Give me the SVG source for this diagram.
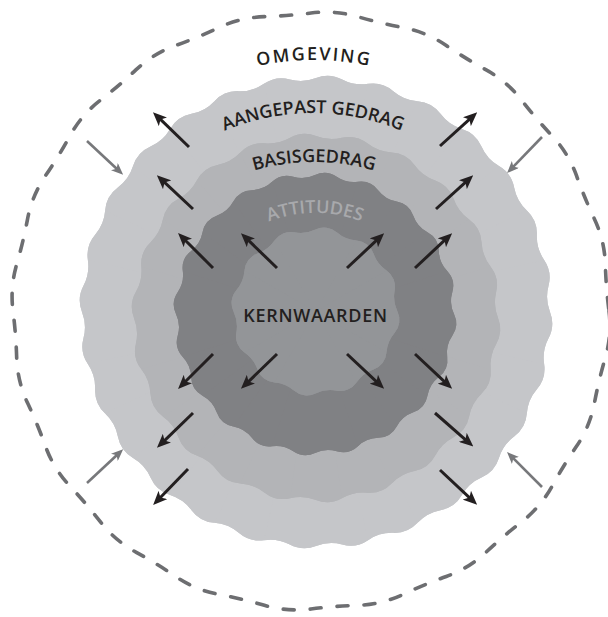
<svg xmlns="http://www.w3.org/2000/svg" xmlns:xlink="http://www.w3.org/1999/xlink" width="608" height="617" viewBox="0 0 608 617">
<style>
.t{font-family:"Open Sans","Liberation Sans",sans-serif;font-weight:600;font-size:18px;fill:#231f20}
.blk{stroke:#231f20;stroke-width:3;fill:none;marker-end:url(#hb)}
.gry{stroke:#77787b;stroke-width:2.6;fill:none;marker-end:url(#hg)}
</style>
<defs>
<marker id="hb" viewBox="0 0 14 12" markerWidth="14" markerHeight="12" refX="6" refY="6" markerUnits="userSpaceOnUse" orient="auto"><path d="M0,0 L14,6 L0,12 L3.5,6 Z" fill="#231f20"/></marker>
<marker id="hg" viewBox="0 0 12 10" markerWidth="12" markerHeight="10" refX="5" refY="5" markerUnits="userSpaceOnUse" orient="auto"><path d="M0,0 L12,5 L0,10 L3,5 Z" fill="#77787b"/></marker>
<path id="w1" d="M0,0 L234,0 A31.45,31.45 0 0 1 232.53,26.2 A41.92,41.92 0 0 0 228.13,52.07 A31.45,31.45 0 0 1 220.87,77.29 A41.92,41.92 0 0 0 210.83,101.53 Z"/>
<path id="w2" d="M0,0 L182,0 A29.91,29.91 0 0 1 180.15,25.9 A43.07,43.07 0 0 0 174.63,51.28 A29.91,29.91 0 0 1 165.55,75.61 A43.07,43.07 0 0 0 153.11,98.4 Z"/>
<path id="w3" d="M0,0 L139,0 A21.77,21.77 0 0 1 137.29,21.74 A30.35,30.35 0 0 0 132.2,42.95 A21.77,21.77 0 0 1 123.85,63.1 A30.35,30.35 0 0 0 112.45,81.7 Z"/>
<path id="w4" d="M0,0 L82,0 A19.49,19.49 0 0 1 79.21,21.22 A34.08,34.08 0 0 0 71.01,41 A19.49,19.49 0 0 1 57.98,57.98 A34.08,34.08 0 0 0 41,71.01 Z"/>
<path id="arcOmg" d="M54,320 A260,260 0 0 1 574,320"/>
<path id="arcAang" d="M83,343 A230,230 0 0 1 543,343"/>
<path id="arcBasis" d="M99,377 A215,215 0 0 1 529,377"/>
<path id="arcAtt" d="M188,340 A127,127 0 0 1 442,340"/>
</defs>
<rect width="608" height="617" fill="#ffffff"/>

<g id="omgeving">
<path transform="translate(311,311)" fill="none" stroke="#6d6e71" stroke-width="3.6" stroke-linecap="round" stroke-dasharray="11 16" d="M298,0 A114.3,114.3 0 0 1 294.33,46.62 A478.6,478.6 0 0 0 283.41,92.09 A114.3,114.3 0 0 1 265.52,135.29 A478.6,478.6 0 0 0 241.09,175.16 A114.3,114.3 0 0 1 210.72,210.72 A478.6,478.6 0 0 0 175.16,241.09 A114.3,114.3 0 0 1 135.29,265.52 A478.6,478.6 0 0 0 92.09,283.41 A114.3,114.3 0 0 1 46.62,294.33 A478.6,478.6 0 0 0 0,298 A114.3,114.3 0 0 1 -46.62,294.33 A478.6,478.6 0 0 0 -92.09,283.41 A114.3,114.3 0 0 1 -135.29,265.52 A478.6,478.6 0 0 0 -175.16,241.09 A114.3,114.3 0 0 1 -210.72,210.72 A478.6,478.6 0 0 0 -241.09,175.16 A114.3,114.3 0 0 1 -265.52,135.29 A478.6,478.6 0 0 0 -283.41,92.09 A114.3,114.3 0 0 1 -294.33,46.62 A478.6,478.6 0 0 0 -298,0 A114.3,114.3 0 0 1 -294.33,-46.62 A478.6,478.6 0 0 0 -283.41,-92.09 A114.3,114.3 0 0 1 -265.52,-135.29 A478.6,478.6 0 0 0 -241.09,-175.16 A114.3,114.3 0 0 1 -210.72,-210.72 A478.6,478.6 0 0 0 -175.16,-241.09 A114.3,114.3 0 0 1 -135.29,-265.52 A478.6,478.6 0 0 0 -92.09,-283.41 A114.3,114.3 0 0 1 -46.62,-294.33 A478.6,478.6 0 0 0 0,-298 A114.3,114.3 0 0 1 46.62,-294.33 A478.6,478.6 0 0 0 92.09,-283.41 A114.3,114.3 0 0 1 135.29,-265.52 A478.6,478.6 0 0 0 175.16,-241.09 A114.3,114.3 0 0 1 210.72,-210.72 A478.6,478.6 0 0 0 241.09,-175.16 A114.3,114.3 0 0 1 265.52,-135.29 A478.6,478.6 0 0 0 283.41,-92.09 A114.3,114.3 0 0 1 294.33,-46.62 A478.6,478.6 0 0 0 298,0 Z"/>
<text class="t" font-size="22" letter-spacing="2"><textPath href="#arcOmg" startOffset="50%" text-anchor="middle">OMGEVING</textPath></text>
</g>

<g id="aangepast-gedrag">
<g transform="translate(316,312)" fill="#c5c6c9">
<use href="#w1"/><use href="#w1" transform="rotate(12.857)"/><use href="#w1" transform="rotate(25.714)"/><use href="#w1" transform="rotate(38.571)"/><use href="#w1" transform="rotate(51.429)"/><use href="#w1" transform="rotate(64.286)"/><use href="#w1" transform="rotate(77.143)"/><use href="#w1" transform="rotate(90)"/><use href="#w1" transform="rotate(102.857)"/><use href="#w1" transform="rotate(115.714)"/><use href="#w1" transform="rotate(128.571)"/><use href="#w1" transform="rotate(141.429)"/><use href="#w1" transform="rotate(154.286)"/><use href="#w1" transform="rotate(167.143)"/><use href="#w1" transform="rotate(180)"/><use href="#w1" transform="rotate(192.857)"/><use href="#w1" transform="rotate(205.714)"/><use href="#w1" transform="rotate(218.571)"/><use href="#w1" transform="rotate(231.429)"/><use href="#w1" transform="rotate(244.286)"/><use href="#w1" transform="rotate(257.143)"/><use href="#w1" transform="rotate(270)"/><use href="#w1" transform="rotate(282.857)"/><use href="#w1" transform="rotate(295.714)"/><use href="#w1" transform="rotate(308.571)"/><use href="#w1" transform="rotate(321.429)"/><use href="#w1" transform="rotate(334.286)"/><use href="#w1" transform="rotate(347.143)"/>
</g>
<text class="t"><textPath href="#arcAang" startOffset="50%" text-anchor="middle">AANGEPAST GEDRAG</textPath></text>
</g>

<g id="basisgedrag">
<g transform="translate(316,318)" fill="#b3b4b7">
<use href="#w2"/><use href="#w2" transform="rotate(16.364)"/><use href="#w2" transform="rotate(32.727)"/><use href="#w2" transform="rotate(49.091)"/><use href="#w2" transform="rotate(65.455)"/><use href="#w2" transform="rotate(81.818)"/><use href="#w2" transform="rotate(98.182)"/><use href="#w2" transform="rotate(114.545)"/><use href="#w2" transform="rotate(130.909)"/><use href="#w2" transform="rotate(147.273)"/><use href="#w2" transform="rotate(163.636)"/><use href="#w2" transform="rotate(180)"/><use href="#w2" transform="rotate(196.364)"/><use href="#w2" transform="rotate(212.727)"/><use href="#w2" transform="rotate(229.091)"/><use href="#w2" transform="rotate(245.455)"/><use href="#w2" transform="rotate(261.818)"/><use href="#w2" transform="rotate(278.182)"/><use href="#w2" transform="rotate(294.545)"/><use href="#w2" transform="rotate(310.909)"/><use href="#w2" transform="rotate(327.273)"/><use href="#w2" transform="rotate(343.636)"/>
</g>
<text class="t"><textPath href="#arcBasis" startOffset="50%" text-anchor="middle">BASISGEDRAG</textPath></text>
</g>

<g id="attitudes">
<g transform="translate(315,314)" fill="#808184">
<use href="#w3"/><use href="#w3" transform="rotate(18)"/><use href="#w3" transform="rotate(36)"/><use href="#w3" transform="rotate(54)"/><use href="#w3" transform="rotate(72)"/><use href="#w3" transform="rotate(90)"/><use href="#w3" transform="rotate(108)"/><use href="#w3" transform="rotate(126)"/><use href="#w3" transform="rotate(144)"/><use href="#w3" transform="rotate(162)"/><use href="#w3" transform="rotate(180)"/><use href="#w3" transform="rotate(198)"/><use href="#w3" transform="rotate(216)"/><use href="#w3" transform="rotate(234)"/><use href="#w3" transform="rotate(252)"/><use href="#w3" transform="rotate(270)"/><use href="#w3" transform="rotate(288)"/><use href="#w3" transform="rotate(306)"/><use href="#w3" transform="rotate(324)"/><use href="#w3" transform="rotate(342)"/>
</g>
<text class="t" style="fill:#a8a9ac"><textPath href="#arcAtt" startOffset="50%" text-anchor="middle">ATTITUDES</textPath></text>
</g>

<g id="kernwaarden">
<g transform="translate(315.5,311.5)" fill="#939598">
<use href="#w4"/><use href="#w4" transform="rotate(30)"/><use href="#w4" transform="rotate(60)"/><use href="#w4" transform="rotate(90)"/><use href="#w4" transform="rotate(120)"/><use href="#w4" transform="rotate(150)"/><use href="#w4" transform="rotate(180)"/><use href="#w4" transform="rotate(210)"/><use href="#w4" transform="rotate(240)"/><use href="#w4" transform="rotate(270)"/><use href="#w4" transform="rotate(300)"/><use href="#w4" transform="rotate(330)"/>
</g>
<text class="t" x="315.5" y="322" text-anchor="middle" letter-spacing="0.7">KERNWAARDEN</text>
</g>

<g id="connectors">
<line class="blk" x1="189" y1="147" x2="158.7" y2="117.7"/>
<line class="blk" x1="193" y1="209" x2="162.7" y2="180.7"/>
<line class="blk" x1="213" y1="268" x2="183.7" y2="238.7"/>
<line class="blk" x1="277" y1="268" x2="246.7" y2="238.7"/>
<line class="blk" x1="440" y1="146" x2="471.3" y2="117.7"/>
<line class="blk" x1="436" y1="209" x2="467.3" y2="180.7"/>
<line class="blk" x1="415" y1="268" x2="446.3" y2="238.7"/>
<line class="blk" x1="347" y1="268" x2="378.3" y2="238.7"/>
<line class="blk" x1="277" y1="354" x2="246.7" y2="383.3"/>
<line class="blk" x1="213" y1="354" x2="183.7" y2="383.3"/>
<line class="blk" x1="193" y1="413" x2="162.7" y2="442.3"/>
<line class="blk" x1="188" y1="469" x2="158.7" y2="499.3"/>
<line class="blk" x1="347" y1="354" x2="378.3" y2="383.3"/>
<line class="blk" x1="415" y1="354" x2="446.3" y2="383.3"/>
<line class="blk" x1="435" y1="413" x2="467.3" y2="441.3"/>
<line class="blk" x1="440" y1="470" x2="471.3" y2="499.3"/>
<line class="gry" x1="87" y1="141" x2="118.05" y2="170.05"/>
<line class="gry" x1="542" y1="137" x2="511.95" y2="168.05"/>
<line class="gry" x1="87" y1="483" x2="118.05" y2="453.95"/>
<line class="gry" x1="542" y1="487" x2="511.95" y2="456.95"/>
</g>
</svg>
